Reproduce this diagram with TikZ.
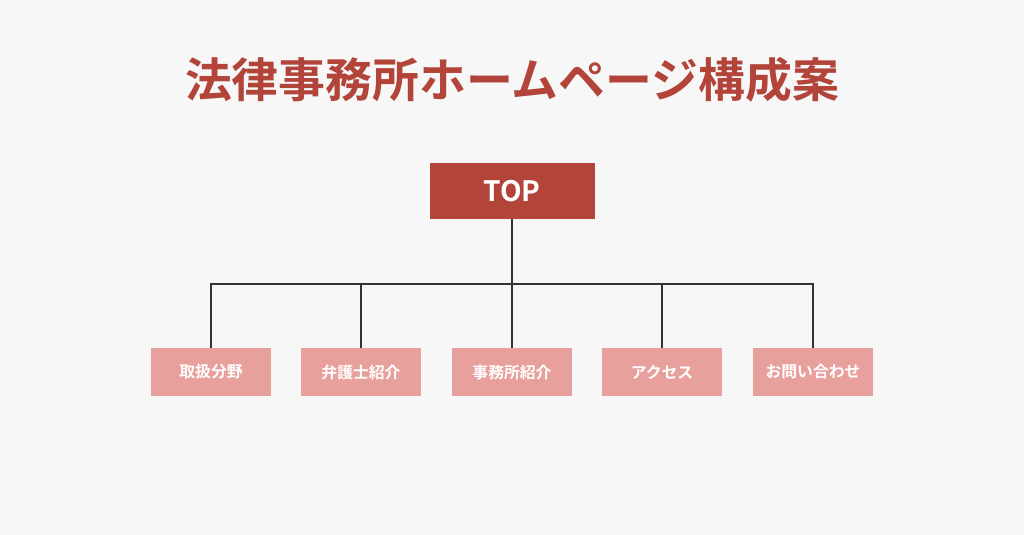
\documentclass[tikz,border=0pt]{standalone}
\usepackage{fontspec}
\setmainfont{Noto Sans CJK JP}
\newfontfamily\jpbold{Noto Sans CJK JP Bold}
\usetikzlibrary{positioning}
\definecolor{bgcol}{HTML}{F7F7F7}
\definecolor{topred}{HTML}{B2443A}
\definecolor{subpink}{HTML}{E8A09C}
\definecolor{linegray}{HTML}{333333}

\begin{document}
\begin{tikzpicture}[x=0.03cm, y=-0.03cm,
	topbox/.style={rectangle, fill=topred, text=white, minimum width=4.95cm, minimum height=1.68cm, font=\jpbold\fontsize{24}{24}\selectfont},
	subbox/.style={rectangle, fill=subpink, text=white, minimum width=3.6cm, minimum height=1.44cm, font=\jpbold\fontsize{13.5}{13.5}\selectfont},
	link/.style={draw=linegray, line width=1.2pt}]
\fill[bgcol] (0,0) rectangle (1024,535);
\useasboundingbox (0,0) rectangle (1024,535);
\node[text=topred, font=\jpbold\fontsize{40}{40}\selectfont] (title) at (512,80) {法律事務所ホームページ構成案};

\node[topbox] (top) at (512,191) {TOP};
\coordinate (bus) at (512,284);

% second level
\node[subbox] (s1) at (211,372) {取扱分野};
\node[subbox] (s2) at (361,372) {弁護士紹介};
\node[subbox] (s3) at (512,372) {事務所紹介};
\node[subbox] (s4) at (662,372) {アクセス};
\node[subbox] (s5) at (813,372) {お問い合わせ};

\draw[link] (top.south) -- (bus);
\draw[link] (s1.north) |- (bus) -| (s5.north);
\foreach \n in {s2,s3,s4}
	\draw[link] (\n.north) -- (\n.north |- bus);
\end{tikzpicture}
\end{document}
